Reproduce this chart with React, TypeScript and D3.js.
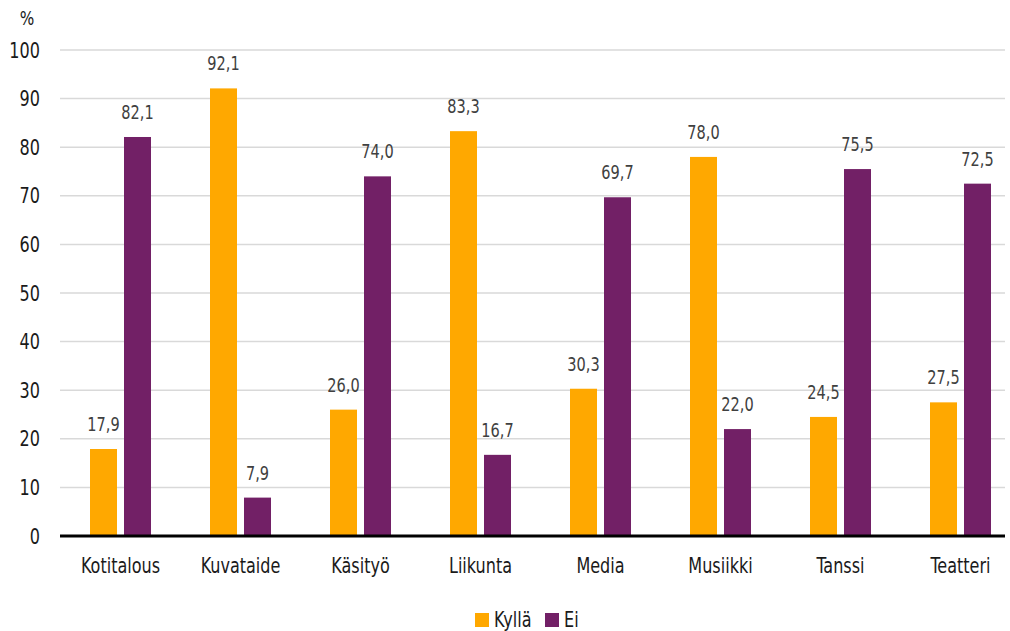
import React from "react";
import * as d3 from "d3";

const categories = ["Kotitalous", "Kuvataide", "Käsityö", "Liikunta", "Media", "Musiikki", "Tanssi", "Teatteri"];
const kylla = [17.9, 92.1, 26.0, 83.3, 30.3, 78.0, 24.5, 27.5];
const ei = [82.1, 7.9, 74.0, 16.7, 69.7, 22.0, 75.5, 72.5];
const seriesNames = ["Kyllä", "Ei"];
const yTicks = [0, 10, 20, 30, 40, 50, 60, 70, 80, 90, 100];

const colors = ["#FFA800", "#722066"];
const FONT = "'Liberation Sans Narrow', 'DejaVu Sans Condensed', 'Arial Narrow', sans-serif";

function CText({ x, y, anchor = "start", size, fill, dy, children }: any) {
  return (
    <text
      transform={`translate(${x},${y}) scale(0.85,1)`}
      textAnchor={anchor}
      fontSize={size}
      fill={fill}
      dy={dy}
    >
      {children}
    </text>
  );
}

export default function App() {
  const W = 1010, H = 631;
  const x = d3.scaleBand<string>().domain(categories).range([60.5, 1020.5]).paddingInner(0).paddingOuter(0);
  const y = d3.scaleLinear().domain([0, 100]).range([536, 50]);
  const barW = 27;
  const gap = 7;
  const fmt = (v: number) => v.toFixed(1).replace(".", ",");
  const series = [kylla, ei];
  return (
    <svg width={W} height={H} style={{ position: "absolute", left: 0, top: 0, background: "#fff" }} fontFamily={FONT}>
      {yTicks.map((t) => (
        <g key={t}>
          {t > 0 && <line x1={60} x2={1005} y1={y(t)} y2={y(t)} stroke="#d9d9d9" strokeWidth={1.5} />}
          <CText x={40} y={y(t)} dy="0.36em" anchor="end" size={21} fill="#1a1a1a">{t}</CText>
        </g>
      ))}
      <CText x={27} y={25} anchor="middle" size={20} fill="#1a1a1a">%</CText>
      {categories.map((c, i) => {
        const cx = x(c)! + x.bandwidth() / 2;
        return (
          <g key={c}>
            {series.map((s, j) => {
              const bx = cx - gap / 2 - barW + j * (barW + gap);
              const v = s[i];
              return (
                <g key={j}>
                  <rect x={bx} y={y(v)} width={barW} height={y(0) - y(v)} fill={colors[j]} />
                  <CText x={bx + barW / 2} y={y(v) - 18} anchor="middle" size={19} fill="#404040">{fmt(v)}</CText>
                </g>
              );
            })}
            <CText x={cx} y={573} anchor="middle" size={21} fill="#1a1a1a">{c}</CText>
          </g>
        );
      })}
      <line x1={60} x2={1005} y1={y(0)} y2={y(0)} stroke="#000" strokeWidth={3} />
      {seriesNames.map((n, j) => {
        const lx = j === 0 ? 475 : 545;
        return (
          <g key={n}>
            <rect x={lx} y={613} width={14} height={14} fill={colors[j]} />
            <CText x={lx + 19} y={627} size={21} fill="#1a1a1a">{n}</CText>
          </g>
        );
      })}
    </svg>
  );
}
